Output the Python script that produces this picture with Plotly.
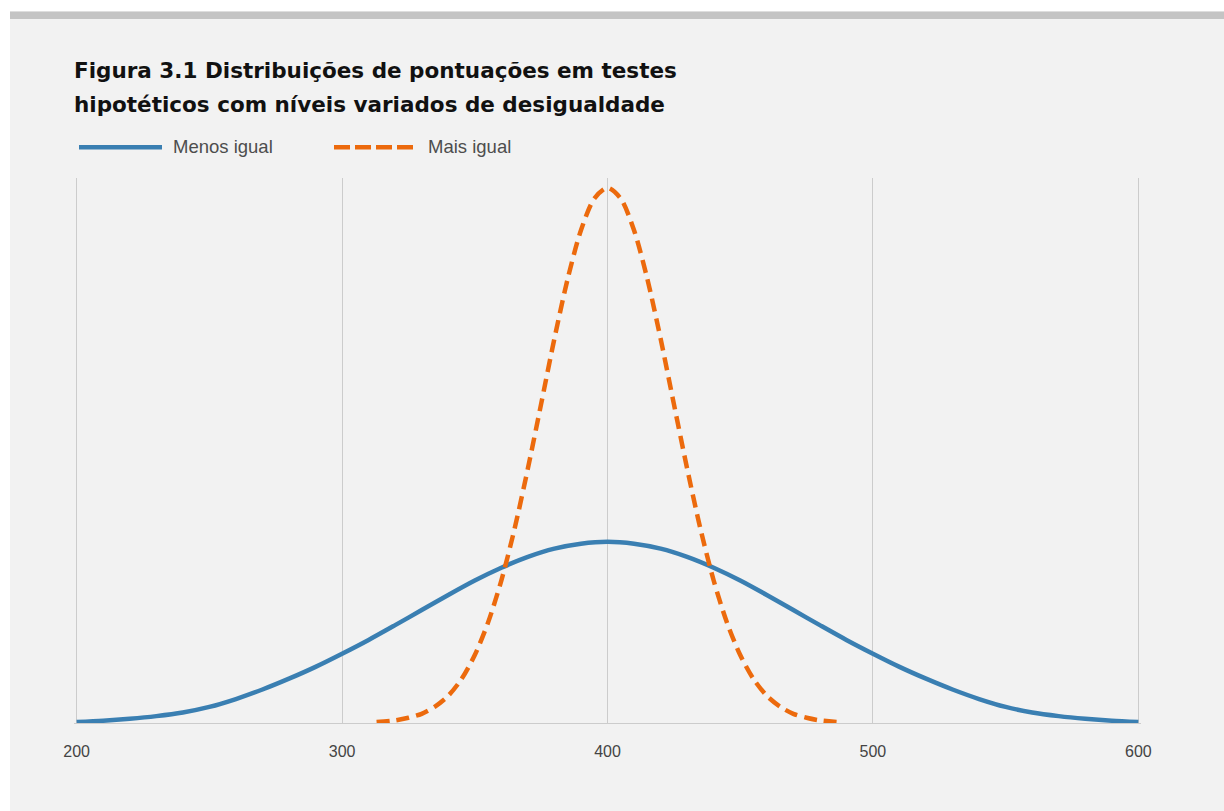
import plotly.graph_objects as go

# ---- data ----
title_line1 = "Figura 3.1 Distribuições de pontuações em testes"
title_line2 = "hipotéticos com níveis variados de desigualdade"
series_names = ["Menos igual", "Mais igual"]

# "Menos igual" (wide distribution), every 10 points from 200 to 600
menos_x = [200, 210, 220, 230, 240, 250, 260, 270, 280, 290, 300, 310, 320, 330, 340,
           350, 360, 370, 380, 390, 400, 410, 420, 430, 440, 450, 460, 470, 480, 490,
           500, 510, 520, 530, 540, 550, 560, 570, 580, 590, 600]
menos_y = [0.03, 0.07, 0.13, 0.21, 0.32, 0.49, 0.73, 1.02, 1.35, 1.71, 2.11, 2.53, 2.98,
           3.44, 3.90, 4.34, 4.73, 5.06, 5.31, 5.46, 5.52, 5.46, 5.31, 5.06, 4.73, 4.34,
           3.90, 3.44, 2.98, 2.53, 2.11, 1.71, 1.35, 1.02, 0.73, 0.49, 0.32, 0.21, 0.13,
           0.07, 0.03]

# "Mais igual" (narrow distribution), from about 313 to 487
mais_x = [313, 320, 325, 330, 335, 340, 345, 350, 355, 360, 365, 370, 375, 380, 385, 390,
          395, 400, 405, 410, 415, 420, 425, 430, 435, 440, 445, 450, 455, 460, 465, 470,
          475, 480, 487]
mais_y = [0.03, 0.08, 0.16, 0.28, 0.50, 0.83, 1.34, 2.07, 3.06, 4.34, 5.92, 7.75, 9.72,
          11.71, 13.53, 15.01, 15.97, 16.30, 15.97, 15.01, 13.53, 11.71, 9.72, 7.75, 5.92,
          4.34, 3.06, 2.07, 1.34, 0.83, 0.50, 0.28, 0.16, 0.08, 0.03]

x_ticks = [200, 300, 400, 500, 600]
x_tick_labels = ["200", "300", "400", "500", "600"]

# ---- style ----
BLUE = "#3a7fb2"
ORANGE = "#ec6a0d"
BG = "#f2f2f2"
GRID = "#cccccc"
FONT = "Liberation Sans, Arial, Helvetica, sans-serif"
TITLE_FONT = "DejaVu Sans, Liberation Sans, Arial, sans-serif"
DASH = "13px,7px"
LEG_DASH = "16px,5px"

fig = go.Figure()
fig.add_trace(go.Scatter(x=menos_x, y=menos_y, mode="lines", name=series_names[0],
                         line=dict(color=BLUE, width=4.5, shape="spline", smoothing=0.8),
                         showlegend=False, hoverinfo="x+y"))
fig.add_trace(go.Scatter(x=mais_x, y=mais_y, mode="lines", name=series_names[1],
                         line=dict(color=ORANGE, width=4.5, dash=DASH, shape="spline",
                                   smoothing=0.8),
                         showlegend=False, hoverinfo="x+y"))

L, R, T, B = 74, 83, 178, 88
W, H = 1224, 811
pw, ph = W - L - R, H - T - B


def px_x(p):
    return (p - L) / pw


def px_y(p):
    return (H - B - p) / ph


shapes = [
    # white top strip and left strip, grey bar
    dict(type="rect", xref="paper", yref="paper", x0=px_x(0), x1=px_x(W),
         y0=px_y(11.5), y1=px_y(0), fillcolor="white", line=dict(width=0), layer="below"),
    dict(type="rect", xref="paper", yref="paper", x0=px_x(0), x1=px_x(10),
         y0=px_y(H), y1=px_y(0), fillcolor="white", line=dict(width=0), layer="below"),
    dict(type="rect", xref="paper", yref="paper", x0=px_x(10), x1=px_x(W),
         y0=px_y(19), y1=px_y(11.5), fillcolor="#c4c4c4", line=dict(width=0), layer="below"),
    # legend keys
    dict(type="line", xref="paper", yref="paper", x0=px_x(79), x1=px_x(162),
         y0=px_y(147.3), y1=px_y(147.3), line=dict(color=BLUE, width=4.5)),
    dict(type="line", xref="paper", yref="paper", x0=px_x(334), x1=px_x(415),
         y0=px_y(147.3), y1=px_y(147.3), line=dict(color=ORANGE, width=4.5, dash=LEG_DASH)),
]

annotations = [
    dict(text="<b>" + title_line1 + "</b>", xref="paper", yref="paper",
         x=px_x(72), y=px_y(70), xanchor="left", yanchor="middle", showarrow=False,
         font=dict(family=TITLE_FONT, size=21.5, color="#111111")),
    dict(text="<b>" + title_line2 + "</b>", xref="paper", yref="paper",
         x=px_x(72), y=px_y(104.5), xanchor="left", yanchor="middle", showarrow=False,
         font=dict(family=TITLE_FONT, size=21.5, color="#111111")),
    dict(text=series_names[0], xref="paper", yref="paper",
         x=px_x(171), y=px_y(147), xanchor="left", yanchor="middle", showarrow=False,
         font=dict(family=FONT, size=18.5, color="#4d4d4d")),
    dict(text=series_names[1], xref="paper", yref="paper",
         x=px_x(426), y=px_y(147), xanchor="left", yanchor="middle", showarrow=False,
         font=dict(family=FONT, size=18.5, color="#4d4d4d")),
]

fig.update_layout(
    width=W, height=H,
    margin=dict(l=L, r=R, t=T, b=B, pad=0),
    paper_bgcolor=BG, plot_bgcolor=BG,
    shapes=shapes, annotations=annotations,
    showlegend=False,
    xaxis=dict(range=[199, 601], tickvals=x_ticks, ticktext=x_tick_labels,
               showgrid=True, gridcolor=GRID, gridwidth=1, zeroline=False,
               showline=True, linecolor=GRID, linewidth=1,
               ticks="outside", ticklen=14, tickcolor="rgba(0,0,0,0)",
               tickfont=dict(family=FONT, size=16, color="#444444")),
    yaxis=dict(range=[0, 16.6], showgrid=False, zeroline=False, showticklabels=False,
               showline=False, ticks=""),
    font=dict(family=FONT),
)

fig.write_html("out.html", config={"displayModeBar": False},
               post_script="document.body.style.margin='0px';")
